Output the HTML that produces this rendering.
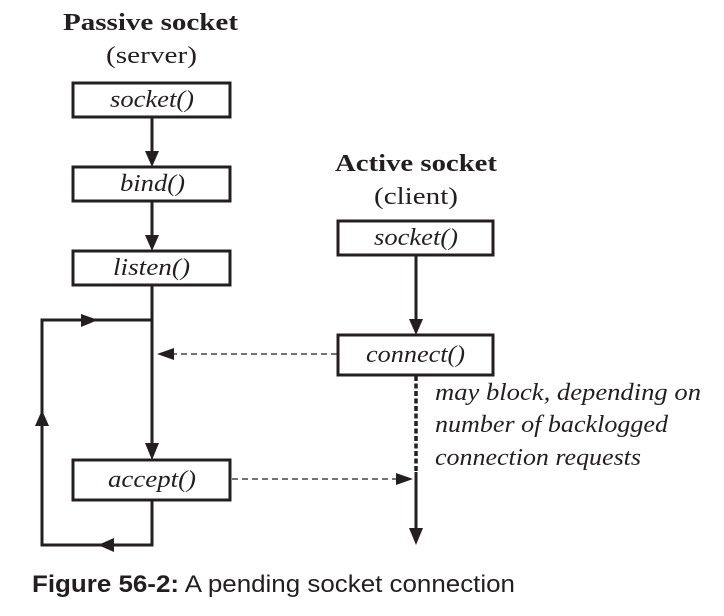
<!DOCTYPE html>
<html><head><meta charset="utf-8"><style>
body{margin:0;background:#fff;width:724px;height:611px;overflow:hidden}
svg text{font-family:"Liberation Serif",serif;fill:#231f20}
</style></head><body>
<svg width="724" height="611" viewBox="0 0 724 611">
<g stroke="#231f20" stroke-width="3" fill="none">
<rect x="73" y="83" width="157" height="34"/>
<rect x="73" y="167" width="157" height="34"/>
<rect x="73" y="251" width="157" height="34"/>
<rect x="73" y="460" width="157" height="40"/>
<rect x="338" y="221" width="155" height="34"/>
<rect x="338" y="335" width="155" height="40"/>
<line x1="152" y1="117" x2="152" y2="152"/>
<line x1="152" y1="201" x2="152" y2="236"/>
<line x1="152" y1="285" x2="152" y2="445"/>
<polyline points="152,500 152,545 42,545 42,320 152,320"/>
<line x1="416" y1="255" x2="416" y2="320"/>
<line x1="416" y1="376" x2="416" y2="472" stroke-dasharray="5,2.5" stroke-width="3.5"/>
<line x1="416" y1="472" x2="416" y2="530"/>
<line x1="337" y1="354" x2="172" y2="354" stroke-width="1.3" stroke-dasharray="6,4"/>
<line x1="232" y1="479" x2="397" y2="479" stroke-width="1.3" stroke-dasharray="6,4"/>
</g>
<g fill="#231f20">
<polygon points="145,151 159,151 152,167"/>
<polygon points="145,235 159,235 152,251"/>
<polygon points="145,443 159,443 152,460"/>
<polygon points="409,319 423,319 416,335"/>
<polygon points="409,528 423,528 416,545"/>
<polygon points="81,314 81,327 98,320"/>
<polygon points="35,426 49,426 42,410"/>
<polygon points="114,538 114,552 98,545"/>
<polygon points="174,348 174,360 157,354"/>
<polygon points="396,473 396,485 413,479"/>
</g>
<text x="63" y="30" textLength="175" lengthAdjust="spacingAndGlyphs" font-size="24" font-weight="bold">Passive socket</text>
<text x="106" y="63" textLength="91" lengthAdjust="spacingAndGlyphs" font-size="24">(server)</text>
<text x="335" y="171" textLength="162" lengthAdjust="spacingAndGlyphs" font-size="24" font-weight="bold">Active socket</text>
<text x="374" y="204" textLength="84" lengthAdjust="spacingAndGlyphs" font-size="24">(client)</text>
<g font-style="italic" font-size="24">
<text x="110" y="107" textLength="84" lengthAdjust="spacingAndGlyphs">socket()</text>
<text x="120" y="191" textLength="65" lengthAdjust="spacingAndGlyphs">bind()</text>
<text x="113" y="275" textLength="77" lengthAdjust="spacingAndGlyphs">listen()</text>
<text x="108" y="487" textLength="88" lengthAdjust="spacingAndGlyphs">accept()</text>
<text x="374" y="245" textLength="84" lengthAdjust="spacingAndGlyphs">socket()</text>
<text x="366" y="362" textLength="99" lengthAdjust="spacingAndGlyphs">connect()</text>
</g>
<g font-style="italic" font-size="24">
<text x="435" y="400" textLength="266" lengthAdjust="spacingAndGlyphs">may block, depending on</text>
<text x="435" y="432" textLength="233" lengthAdjust="spacingAndGlyphs">number of backlogged</text>
<text x="435" y="465" textLength="206" lengthAdjust="spacingAndGlyphs">connection requests</text>
</g>
<text x="32" y="592" font-size="24" textLength="483" lengthAdjust="spacingAndGlyphs" style="font-family:'Liberation Sans',sans-serif"><tspan font-weight="bold">Figure 56-2:</tspan> A pending socket connection</text>
</svg>
</body></html>
